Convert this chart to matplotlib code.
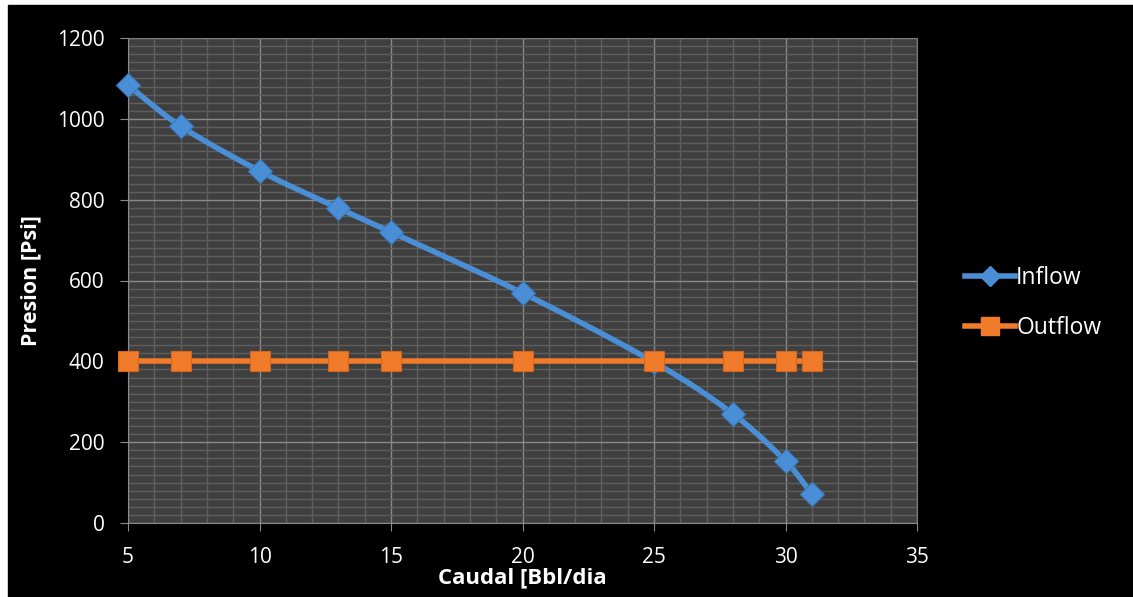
import numpy as np
import matplotlib.pyplot as plt
from matplotlib.patches import Rectangle
from matplotlib.ticker import MultipleLocator

# data
caudal = [5, 7, 10, 13, 15, 20, 25, 28, 30, 31]
inflow = [1083, 982, 871, 779, 720, 569, 398, 270, 153, 72]
outflow = [401, 401, 401, 401, 401, 401, 401, 401, 401, 401]

plt.rcParams['font.family'] = ['Open Sans', 'DejaVu Sans']


def smooth(x, y, n=20):
    # catmull-rom curve through the points, like excel's smoothed line
    x = np.asarray(x, float)
    y = np.asarray(y, float)
    px = np.concatenate([[2 * x[0] - x[1]], x, [2 * x[-1] - x[-2]]])
    py = np.concatenate([[2 * y[0] - y[1]], y, [2 * y[-1] - y[-2]]])
    xs, ys = [], []
    t = np.linspace(0, 1, n, endpoint=False)
    for i in range(1, len(px) - 2):
        p0, p1, p2, p3 = px[i - 1], px[i], px[i + 1], px[i + 2]
        q0, q1, q2, q3 = py[i - 1], py[i], py[i + 1], py[i + 2]
        m1x, m2x = (p2 - p0) / 6, (p3 - p1) / 6
        m1y, m2y = (q2 - q0) / 6, (q3 - q1) / 6
        b0 = (1 - t) ** 3
        b1 = 3 * t * (1 - t) ** 2
        b2 = 3 * t ** 2 * (1 - t)
        b3 = t ** 3
        xs.append(b0 * p1 + b1 * (p1 + m1x) + b2 * (p2 - m2x) + b3 * p2)
        ys.append(b0 * q1 + b1 * (q1 + m1y) + b2 * (q2 - m2y) + b3 * q2)
    xs.append([x[-1]])
    ys.append([y[-1]])
    return np.concatenate(xs), np.concatenate(ys)


fig = plt.figure(figsize=(11.33, 5.97), dpi=100, facecolor='white')
fig.patches.append(Rectangle((8 / 1133, 0), 1 - 8 / 1133, 1 - 5 / 597,
                             transform=fig.transFigure, color='black', zorder=-1))

ax = fig.add_axes([128 / 1133, 1 - 523 / 597, (917 - 128) / 1133, (523 - 38) / 597])
ax.set_facecolor('#3f3f3f')

ax.set_xlim(5, 35)
ax.set_ylim(0, 1200)
ax.xaxis.set_major_locator(MultipleLocator(5))
ax.xaxis.set_minor_locator(MultipleLocator(1))
ax.yaxis.set_major_locator(MultipleLocator(200))
ax.yaxis.set_minor_locator(MultipleLocator(20))
ax.grid(which='minor', color='#5e5e5e', lw=1.0)
ax.grid(which='major', color='#8a8a8a', lw=1.0)
ax.set_axisbelow(True)

for s in ['top', 'right']:
    ax.spines[s].set_color('#7a7a7a')
for s in ['left', 'bottom']:
    ax.spines[s].set_color('#8a8a8a')
ax.tick_params(which='major', colors='#8a8a8a', length=6, labelcolor='white',
               labelsize=15, pad=11)
ax.tick_params(which='minor', length=0)

sx, sy = smooth(caudal, inflow)
ax.plot(sx, sy, color='#4a8fd6', lw=4, solid_capstyle='round', zorder=3)
ax.plot(caudal, inflow, ls='none', marker='D', ms=12, color='#4a8fd6',
        mec='#3a7ac0', mew=0.8, zorder=4, clip_on=False)
ax.plot(caudal, outflow, color='#f07b2a', lw=4, zorder=5)
ax.plot(caudal, outflow, ls='none', marker='s', ms=14.5, color='#f07b2a',
        mec='#d8671c', mew=0.8, zorder=6, clip_on=False)

ax.set_xlabel('Caudal [Bbl/dia', color='white', fontsize=16, fontweight='bold',
              labelpad=0)
ax.set_ylabel('Presion [Psi]', color='white', fontsize=15.5, fontweight='bold',
              labelpad=11)

# legend
ax.plot([], [], color='#4a8fd6', lw=4, marker='D', ms=10, label='Inflow')
ax.plot([], [], color='#f07b2a', lw=4, marker='s', ms=13, label='Outflow')
h, l = ax.get_legend_handles_labels()
leg = fig.legend(h[-2:], l[-2:], loc='center left', bbox_to_anchor=(944 / 1133, 1 - 303 / 597),
                 frameon=False, fontsize=16.5, labelcolor='white', handlelength=2.2,
                 handletextpad=0.05, labelspacing=1.1)

fig.savefig('out.png', dpi=100, facecolor=fig.get_facecolor())
